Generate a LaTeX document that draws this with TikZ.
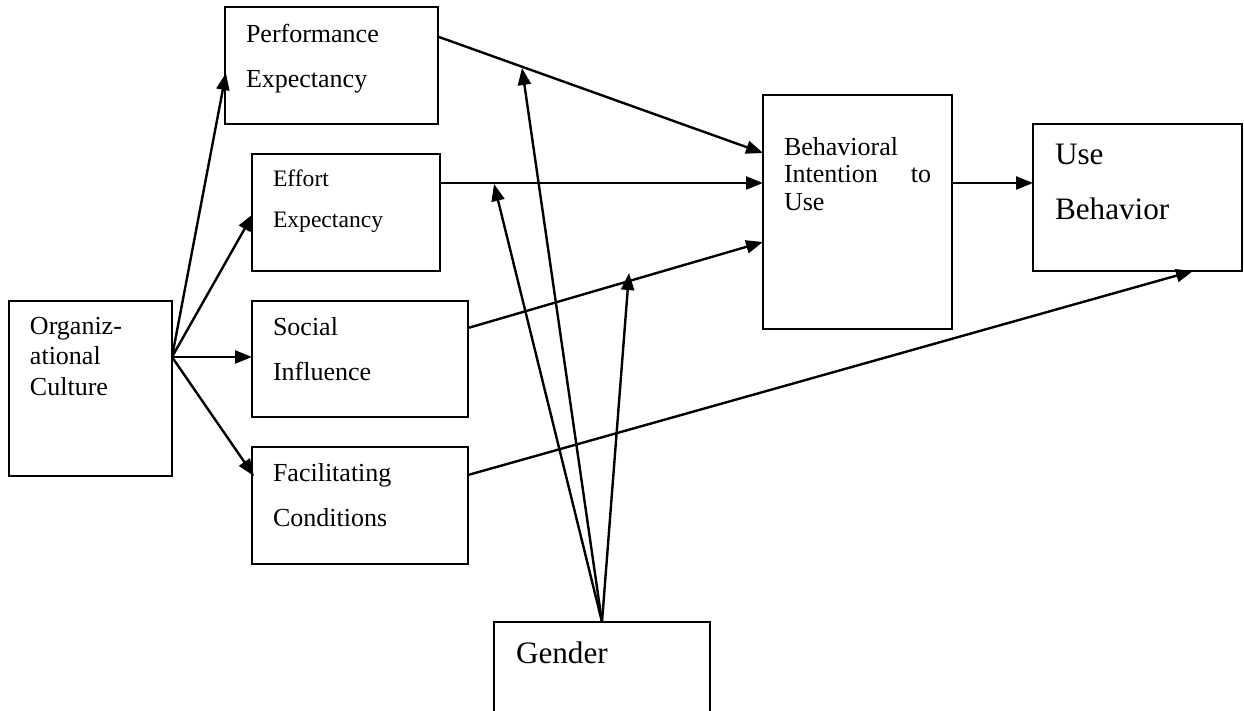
\documentclass[tikz,border=0pt]{standalone}
\usepackage{fontspec}
\setmainfont{Liberation Serif}
\usetikzlibrary{arrows.meta,calc}
\tikzset{
  box/.style={draw, line width=0.9pt, inner sep=0pt, outer sep=0pt},
  lbl/.style={anchor=base west, inner sep=0pt, outer sep=0pt},
  conn/.style={line width=1.2pt, -{Triangle[length=8.5pt,width=6.5pt]}},
  fsA/.style={font=\fontsize{13pt}{15pt}\selectfont},
  fsB/.style={font=\fontsize{11.8pt}{14pt}\selectfont},
  fsC/.style={font=\fontsize{15.6pt}{18pt}\selectfont}
}
\begin{document}
\begin{tikzpicture}[x=0.5pt,y=-0.5pt]
\useasboundingbox (0,0) rectangle (1244,711);
% boxes
\node[box, minimum width=106.5pt, minimum height=58.5pt] (pe) at (331.5,65.5) {};
\node[box, minimum width=94pt, minimum height=58.5pt] (ee) at (346,212.5) {};
\node[box, minimum width=108pt, minimum height=58pt] (si) at (360,359) {};
\node[box, minimum width=108pt, minimum height=58.5pt] (fc) at (360,505.5) {};
\node[box, minimum width=81.5pt, minimum height=87.5pt] (oc) at (90.5,388.5) {};
\node[box, minimum width=94.5pt, minimum height=117pt] (bi) at (857.5,212) {};
\node[box, minimum width=104.5pt, minimum height=73.5pt] (ub) at (1137.5,197.5) {};
\node[box, minimum width=108pt, minimum height=60pt] (gn) at (602,682) {};
% labels
\node[lbl, fsA] (pe1) at (246,43) {Performance};
\node[lbl, fsA] (pe2) at (246,88) {Expectancy};
\node[lbl, fsB] (ee1) at (273,187) {Effort};
\node[lbl, fsB] (ee2) at (273,228) {Expectancy};
\node[lbl, fsA] (si1) at (273,336) {Social};
\node[lbl, fsA] (si2) at (273,381) {Influence};
\node[lbl, fsA] (fc1) at (273,482) {Facilitating};
\node[lbl, fsA] (fc2) at (273,527) {Conditions};
\node[lbl, fsA] (oc1) at (30,335) {Organiz-};
\node[lbl, fsA] (oc2) at (30,365) {ational};
\node[lbl, fsA] (oc3) at (30,396) {Culture};
\node[lbl, fsA] (bi1) at (784,156) {Behavioral};
\node[lbl, fsA] (bi2) at (784,183) {\hbox to 73.5pt{Intention\hfill to}};
\node[lbl, fsA] (bi3) at (784,211) {Use};
\node[lbl, fsC] (ub1) at (1055,165) {Use};
\node[lbl, fsC] (ub2) at (1055,220) {Behavior};
\node[lbl, fsC] (gn1) at (516,663) {Gender};
% fan from organizational culture
\coordinate (ocf) at ($(oc.north east)+(0,56)$);
\draw[conn] (ocf) -- ($(pe.north west)+(1,66)$);
\draw[conn] (ocf) -- ($(ee.north west)+(1,60)$);
\draw[conn] (ocf) -- ($(si.north west)+(0,56)$);
\draw[conn] (ocf) -- ($(fc.north west)+(2,29)$);
% to behavioral intention
\draw[conn] ($(pe.north east)+(1,30)$) -- ($(bi.north west)+(0,58)$);
\draw[conn] ($(ee.north east)+(0,29)$) -- ($(bi.north west)+(0,88)$);
\draw[conn] ($(si.north east)+(0,27)$) -- ($(bi.north west)+(0,147)$);
% to use behavior
\draw[conn] ($(fc.north east)+(0,28)$) -- ($(ub.south west)+(160,0)$);
\draw[conn] ($(bi.north east)+(0,88)$) -- ($(ub.north west)+(0,59)$);
% gender moderation
\coordinate (m1) at (522,68);
\coordinate (m2) at (494,184);
\coordinate (m3) at (629,273);
\draw[conn] (gn.north) -- (m1);
\draw[conn] (gn.north) -- (m2);
\draw[conn] (gn.north) -- (m3);
\end{tikzpicture}
\end{document}
